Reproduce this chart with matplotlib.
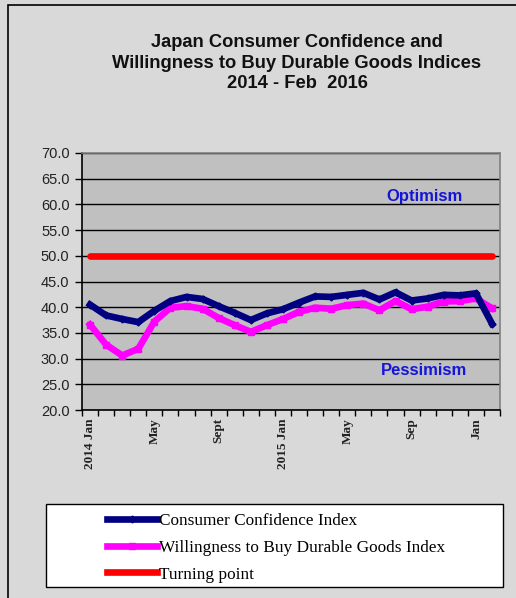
import matplotlib
matplotlib.use("Agg")
import matplotlib.pyplot as plt
from matplotlib.patches import Rectangle
from matplotlib.lines import Line2D

# Monthly index values, Jan 2014 - Feb 2016
months = ["2014 Jan", "Feb", "Mar", "Apr", "May", "Jun", "Jul", "Aug", "Sept", "Oct", "Nov", "Dec",
          "2015 Jan", "Feb", "Mar", "Apr", "May", "Jun", "Jul", "Aug", "Sep", "Oct", "Nov", "Dec",
          "Jan", "Feb"]
confidence = [40.5, 38.4, 37.7, 37.1, 39.3, 41.2, 42.0, 41.6, 40.2, 38.9, 37.5, 38.8,
              39.6, 40.9, 42.1, 42.0, 42.4, 42.8, 41.5, 42.9, 41.3, 41.7, 42.4, 42.3,
              42.7, 36.8]
durables = [36.6, 32.7, 30.6, 31.9, 37.2, 39.9, 40.2, 39.7, 37.9, 36.5, 35.2, 36.5,
            37.7, 39.1, 39.9, 39.7, 40.4, 40.7, 39.4, 41.2, 39.6, 40.1, 41.1, 41.2,
            41.7, 39.8]
turning = [50.0] * len(months)
labelled_idx = [0, 4, 8, 12, 16, 20, 24]
y_ticks = [20, 25, 30, 35, 40, 45, 50, 55, 60, 65, 70]

W, H = 516, 598
fig = plt.figure(figsize=(W / 100, H / 100), dpi=100)
fig.patch.set_facecolor("#d9d9d9")

# outer chart frame (left/top edges visible)
fig.add_artist(Rectangle((8 / W, -0.1), 1.2, 1 - 5 / H + 0.1, transform=fig.transFigure,
                         fill=False, edgecolor="black", linewidth=1.2))

ax = fig.add_axes([82 / W, 1 - 410 / H, (500 - 82) / W, (410 - 153) / H])
ax.set_facecolor("#c0c0c0")

x = list(range(len(months)))
ax.plot(x, turning, color="#ff0000", linewidth=4.8, solid_capstyle="round", zorder=3,
        label="Turning point")
ax.plot(x, durables, color="#ff00ff", linewidth=4.8, marker="s", markersize=5,
        solid_joinstyle="round", zorder=4, label="Willingness to Buy Durable Goods Index")
ax.plot(x, confidence, color="#000080", linewidth=4.8, marker="D", markersize=3.5,
        solid_joinstyle="round", zorder=5, label="Consumer Confidence Index")

ax.set_xlim(-0.5, len(months) - 0.5)
ax.set_ylim(20, 70)
ax.set_yticks(y_ticks)
ax.set_yticklabels([f"{v:.1f}" for v in y_ticks], fontfamily="Liberation Sans",
                   fontsize=10.5, color="#222222")
ax.yaxis.grid(True, color="black", linewidth=1.0)
ax.set_axisbelow(True)

ax.set_xticks(labelled_idx)
ax.set_xticklabels([months[i] for i in labelled_idx], rotation=90, fontfamily="Liberation Serif",
                   fontsize=9.5, fontweight="bold", color="#222222")
ax.set_xticks([i - 0.5 for i in range(len(months) + 1)], minor=True)
ax.tick_params(axis="x", which="major", length=0, pad=6)
ax.tick_params(axis="x", which="minor", length=4, direction="out", width=1, color="black")
ax.tick_params(axis="y", length=5, direction="out", width=1, color="black", pad=4)

for side in ("left", "bottom"):
    ax.spines[side].set_color("black")
    ax.spines[side].set_linewidth(1.2)
for side in ("right", "top"):
    ax.spines[side].set_color("#808080")
    ax.spines[side].set_linewidth(1.2)

ax.text(20.8, 61.5, "Optimism", color="#1515d8", fontfamily="Liberation Sans",
        fontweight="bold", fontsize=12, ha="center", va="center")
ax.text(20.8, 27.6, "Pessimism", color="#1515d8", fontfamily="Liberation Sans",
        fontweight="bold", fontsize=12, ha="center", va="center")

fig.text(297 / W, 1 - 63 / H,
         "Japan Consumer Confidence and\nWillingness to Buy Durable Goods Indices\n2014 - Feb  2016",
         ha="center", va="center", multialignment="center", fontfamily="Liberation Sans",
         fontweight="bold", fontsize=13.2, linespacing=1.3, color="#111111")

# legend box
fig.add_artist(Rectangle((46 / W, 1 - 587 / H), (503 - 46) / W, (587 - 504) / H,
                         transform=fig.transFigure, facecolor="white", edgecolor="black",
                         linewidth=1.0, zorder=1))
handles = [
    Line2D([], [], color="#000080", linewidth=4.8, marker="D", markersize=3.5),
    Line2D([], [], color="#ff00ff", linewidth=4.8, marker="s", markersize=5),
    Line2D([], [], color="#ff0000", linewidth=4.8),
]
labels = ["Consumer Confidence Index", "Willingness to Buy Durable Goods Index", "Turning point"]
leg = fig.legend(handles, labels, loc="upper left", bbox_to_anchor=(107 / W, 1 - 513 / H),
                 frameon=False, borderpad=0, borderaxespad=0, handlelength=2.9,
                 handletextpad=0.12, labelspacing=0.62, markerfirst=True,
                 prop={"family": "Liberation Serif", "size": 12.4})
leg.set_zorder(2)

fig.savefig("out.png", dpi=100, facecolor=fig.get_facecolor())
